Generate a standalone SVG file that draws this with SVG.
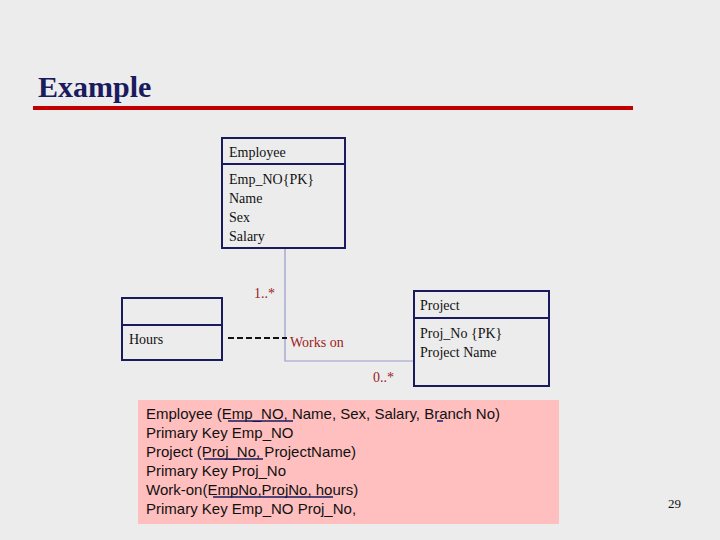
<svg xmlns="http://www.w3.org/2000/svg" width="720" height="540" viewBox="0 0 720 540">
<style>
.box{fill:none;stroke:#1a1a5e;stroke-width:2}
.t{font-family:"Liberation Serif",serif;font-size:14px;fill:#111}
.m{font-family:"Liberation Serif",serif;font-size:14px;fill:#9b1c1c}
.s{font-family:"Liberation Sans",sans-serif;font-size:15px;fill:#111}
.u{stroke:#1a1a5e;stroke-width:1.5}
</style>
<rect width="720" height="540" fill="#ececec"/>
<text x="38" y="97" font-family="Liberation Serif,serif" font-size="30" font-weight="bold" fill="#1a1a5e">Example</text>
<rect x="33" y="106" width="600" height="4" fill="#c00000"/>
<g id="connectors">
<polyline points="285,248 285,361 414,361" fill="none" stroke="#9999cc" stroke-width="1.2"/>
<line x1="228" y1="338" x2="287" y2="338" stroke="#111" stroke-width="2" stroke-dasharray="6,3"/>
<text class="m" x="254" y="298">1..*</text>
<text class="m" x="290" y="347">Works on</text>
<text class="m" x="373" y="382">0..*</text>
</g>
<g id="employee">
<rect class="box" x="222" y="138" width="123" height="110"/>
<line class="box" x1="222" y1="164" x2="345" y2="164"/>
<text class="t" x="229" y="157">Employee</text>
<text class="t" x="229" y="184">Emp_NO{PK}</text>
<text class="t" x="229" y="203">Name</text>
<text class="t" x="229" y="222">Sex</text>
<text class="t" x="229" y="241">Salary</text>
</g>
<g id="project">
<rect class="box" x="414" y="291" width="135" height="95"/>
<line class="box" x1="414" y1="318" x2="549" y2="318"/>
<text class="t" x="420" y="310">Project</text>
<text class="t" x="420" y="338">Proj_No  {PK}</text>
<text class="t" x="420" y="357">Project Name</text>
</g>
<g id="hours">
<rect class="box" x="122" y="298" width="100" height="62"/>
<line class="box" x1="122" y1="325" x2="222" y2="325"/>
<text class="t" x="129" y="344">Hours</text>
</g>
<g id="schema">
<rect x="138" y="400" width="421" height="124" fill="#ffbfbf"/>
<text class="s" x="146" y="419">Employee (Emp_NO, Name, Sex, Salary, Branch No)</text>
<text class="s" x="146" y="438">Primary Key  Emp_NO</text>
<text class="s" x="146" y="457">Project (Proj_No, ProjectName)</text>
<text class="s" x="146" y="476">Primary Key  Proj_No</text>
<text class="s" x="146" y="495">Work-on(EmpNo,ProjNo, hours)</text>
<text class="s" x="146" y="514">Primary Key  Emp_NO Proj_No,</text>
<line class="u" x1="228" y1="421" x2="293" y2="421"/>
<line class="u" x1="437" y1="421" x2="443" y2="421"/>
<line class="u" x1="204" y1="459" x2="263" y2="459"/>
<line class="u" x1="213" y1="497" x2="333" y2="497"/>
</g>
<text x="668" y="508" font-family="Liberation Serif,serif" font-size="13" fill="#111">29</text>
</svg>
